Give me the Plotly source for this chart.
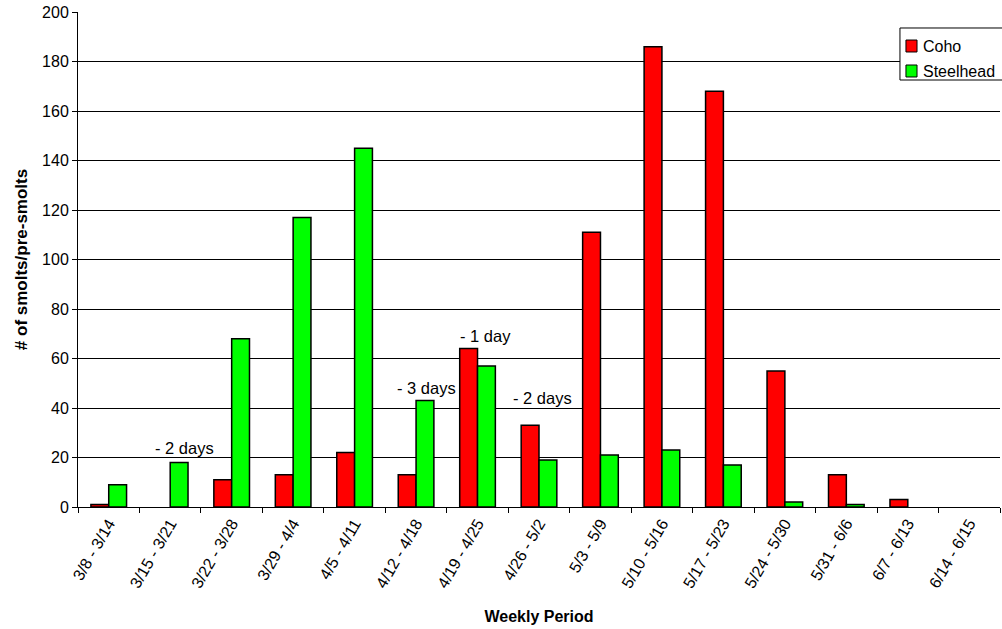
import plotly.graph_objects as go

periods = ["3/8 - 3/14", "3/15 - 3/21", "3/22 - 3/28", "3/29 - 4/4", "4/5 - 4/11",
           "4/12 - 4/18", "4/19 - 4/25", "4/26 - 5/2", "5/3 - 5/9", "5/10 - 5/16",
           "5/17 - 5/23", "5/24 - 5/30", "5/31 - 6/6", "6/7 - 6/13", "6/14 - 6/15"]
coho = [1, 0, 11, 13, 22, 13, 64, 33, 111, 186, 168, 55, 13, 3, 0]
steelhead = [9, 18, 68, 117, 145, 43, 57, 19, 21, 23, 17, 2, 1, 0, 0]

# missing-day notes above the weeks with incomplete trapping
note_periods = ["3/15 - 3/21", "4/12 - 4/18", "4/19 - 4/25", "4/26 - 5/2"]
note_labels = ["- 2 days", "- 3 days", "- 1 day", "- 2 days"]
note_heights = [24, 48, 69, 44]
note_xshift = [14, 10, 8, 3]

font = "Liberation Sans, Arial, sans-serif"
RED = "#ff0000"
GREEN = "#00ff00"


def outline(values):
    # no outline on empty weeks so they stay blank
    return [1.5 if v > 0 else 0 for v in values]


fig = go.Figure()
fig.add_trace(go.Bar(x=periods, y=coho, name="Coho",
                     marker=dict(color=RED, line=dict(color="black", width=outline(coho)))))
fig.add_trace(go.Bar(x=periods, y=steelhead, name="Steelhead",
                     marker=dict(color=GREEN, line=dict(color="black", width=outline(steelhead)))))

for p, label, h, dx in zip(note_periods, note_labels, note_heights, note_xshift):
    fig.add_annotation(x=p, y=h, text=label, showarrow=False, xshift=dx,
                       font=dict(family=font, size=16.5, color="black"))

# legend box drawn in paper coordinates
fig.add_shape(type="rect", xref="paper", yref="paper", x0=0.8915, x1=1.01, y0=0.8626, y1=0.9677,
              line=dict(color="black", width=1), fillcolor="white", layer="above")
for name, color, y0, y1, yt in [("Coho", RED, 0.9192, 0.9434, 0.9313),
                                ("Steelhead", GREEN, 0.8687, 0.8929, 0.8808)]:
    fig.add_shape(type="rect", xref="paper", yref="paper", x0=0.8980, x1=0.9100, y0=y0, y1=y1,
                  line=dict(color="black", width=1), fillcolor=color, layer="above")
    fig.add_annotation(xref="paper", yref="paper", x=0.9140, y=yt, text=name, showarrow=False,
                       xanchor="left", yanchor="middle",
                       font=dict(family=font, size=16, color="black"))

fig.update_layout(
    width=1002, height=629,
    margin=dict(l=78, r=2, t=12, b=122),
    paper_bgcolor="white", plot_bgcolor="white",
    barmode="group", bargap=0.42, bargroupgap=0,
    font=dict(family=font, size=16, color="black"),
    showlegend=False,
    xaxis=dict(
        title=dict(text="<b>Weekly Period</b>", font=dict(family=font, size=16), standoff=20),
        tickangle=-60, tickson="boundaries", ticks="outside", ticklen=5,
        tickcolor="black", showline=True, linecolor="black", linewidth=1,
        showgrid=False, tickfont=dict(family=font, size=16), automargin=False,
    ),
    yaxis=dict(
        title=dict(text="<b># of smolts/pre-smolts</b>", font=dict(family=font, size=17), standoff=10),
        range=[0, 200], dtick=20, ticks="outside", ticklen=5, tickcolor="black",
        showline=True, linecolor="black", linewidth=1,
        showgrid=True, gridcolor="black", gridwidth=1, zeroline=False,
        tickfont=dict(family=font, size=16), automargin=False,
    ),
)

fig.write_html("out.html")
